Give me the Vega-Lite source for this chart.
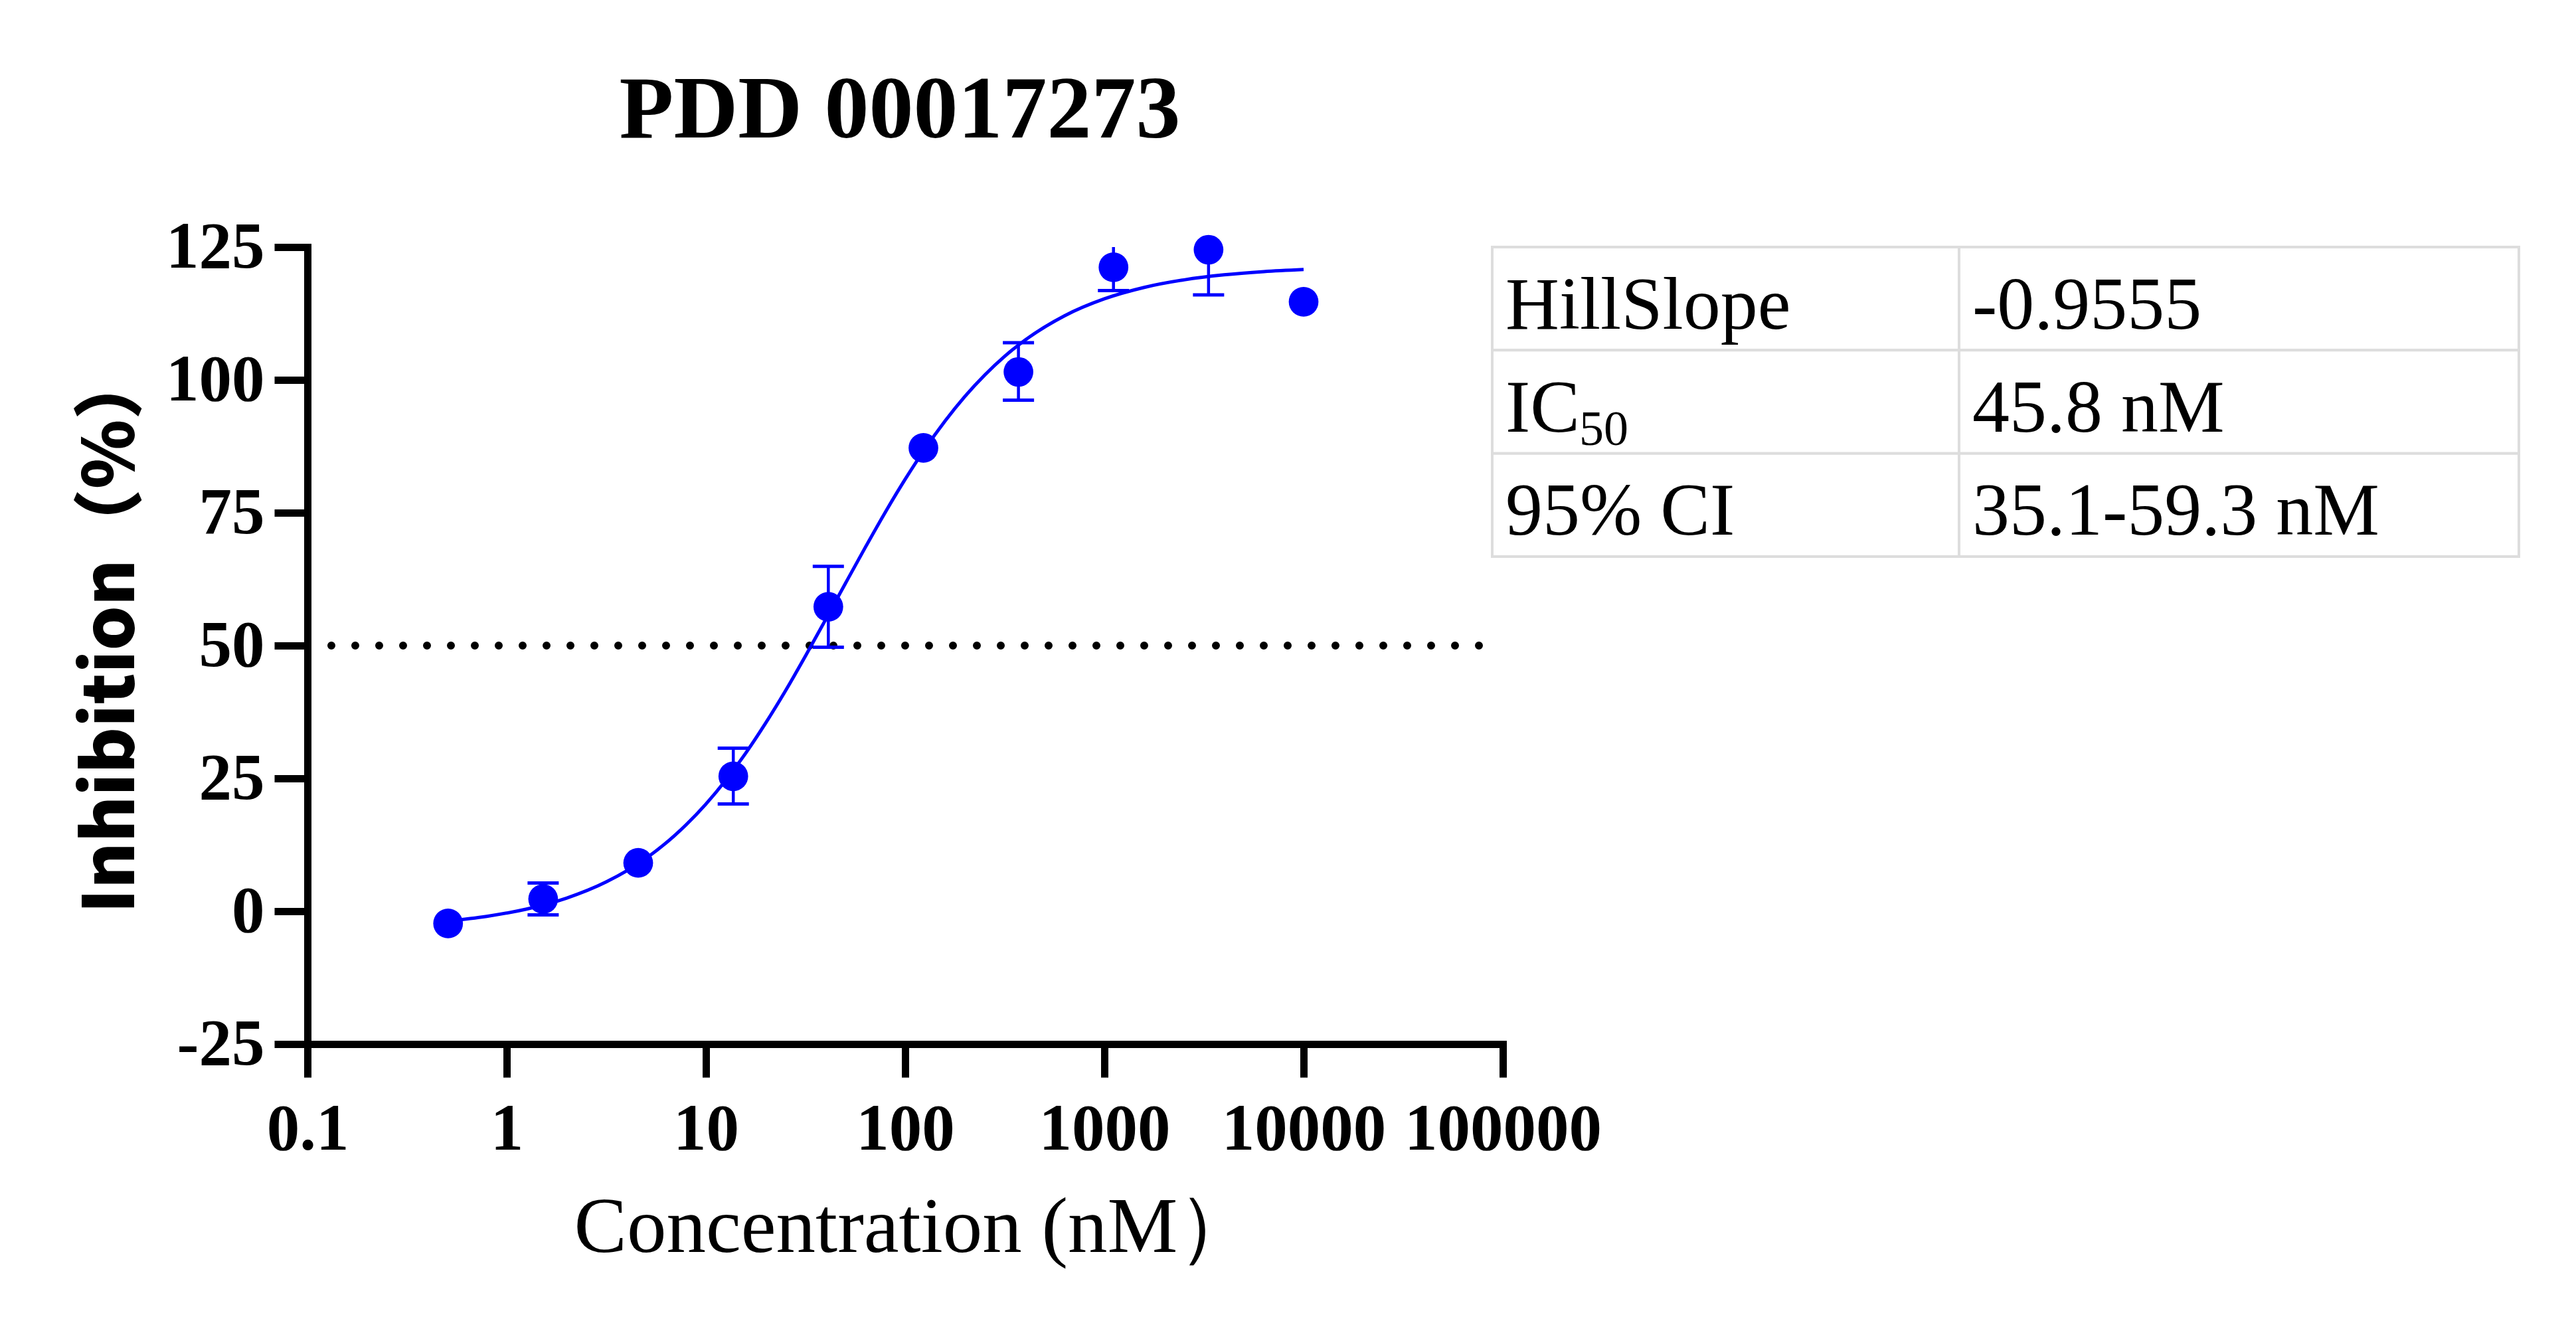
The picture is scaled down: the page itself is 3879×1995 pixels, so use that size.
{
  "$schema": "https://vega.github.io/schema/vega-lite/v6.json",
  "description": "PDD 00017273 dose-response curve with fit parameter table.",
  "padding": {"left": 116, "top": 100, "right": 5, "bottom": 5},
  "background": "white",
  "config": {
    "view": {"stroke": null},
    "axis": {
      "grid": false,
      "domainColor": "black",
      "domainWidth": 11,
      "domainCap": "square",
      "tickColor": "black",
      "tickWidth": 11,
      "tickSize": 50,
      "labelColor": "black",
      "labelFont": "Liberation Serif",
      "labelFontWeight": "bold",
      "labelFontSize": 99,
      "labelLimit": 1000,
      "titleColor": "black"
    }
  },
  "datasets": {
    "points": [
      {"conc": 0.508, "inhibition": -2.3},
      {"conc": 1.524, "inhibition": 2.3, "lo": -0.7, "hi": 5.3},
      {"conc": 4.572, "inhibition": 9.1},
      {"conc": 13.72, "inhibition": 25.4, "lo": 20.2, "hi": 30.7},
      {"conc": 41.15, "inhibition": 57.3, "lo": 49.7, "hi": 64.9},
      {"conc": 123.5, "inhibition": 87.2},
      {"conc": 370.4, "inhibition": 101.5, "lo": 96.2, "hi": 107.0},
      {"conc": 1111, "inhibition": 121.2, "lo": 116.8, "hi": 125.6},
      {"conc": 3333, "inhibition": 124.5, "lo": 116.0, "hi": 133.0},
      {"conc": 10000, "inhibition": 114.7}
    ],
    "fit": [
      {"conc": 0.5, "inhibition": -1.85},
      {"conc": 0.794, "inhibition": -0.96},
      {"conc": 1.259, "inhibition": 0.41},
      {"conc": 1.995, "inhibition": 2.46},
      {"conc": 3.162, "inhibition": 5.52},
      {"conc": 5.012, "inhibition": 9.97},
      {"conc": 7.943, "inhibition": 16.24},
      {"conc": 10, "inhibition": 20.17},
      {"conc": 12.59, "inhibition": 24.68},
      {"conc": 15.85, "inhibition": 29.77},
      {"conc": 19.95, "inhibition": 35.42},
      {"conc": 25.12, "inhibition": 41.53},
      {"conc": 31.62, "inhibition": 48.05},
      {"conc": 39.81, "inhibition": 54.83},
      {"conc": 50.12, "inhibition": 61.69},
      {"conc": 63.1, "inhibition": 68.48},
      {"conc": 79.43, "inhibition": 75.07},
      {"conc": 100, "inhibition": 81.29},
      {"conc": 125.9, "inhibition": 87.05},
      {"conc": 158.5, "inhibition": 92.26},
      {"conc": 199.5, "inhibition": 96.9},
      {"conc": 251.2, "inhibition": 100.95},
      {"conc": 316.2, "inhibition": 104.46},
      {"conc": 398.1, "inhibition": 107.44},
      {"conc": 631, "inhibition": 112.07},
      {"conc": 1000, "inhibition": 115.26},
      {"conc": 1585, "inhibition": 117.41},
      {"conc": 2512, "inhibition": 118.83},
      {"conc": 3981, "inhibition": 119.77},
      {"conc": 6310, "inhibition": 120.38},
      {"conc": 10000, "inhibition": 120.78}
    ],
    "half": [
      {"from": 0.1, "to": 80000, "inhibition": 50}
    ],
    "stats": [
      {"row": 1, "param": "HillSlope", "value": "-0.9555"},
      {"row": 2, "param": "IC", "sub": "50", "value": "45.8 nM"},
      {"row": 3, "param": "95% CI", "value": "35.1-59.3 nM"}
    ]
  },
  "bounds": "flush",
  "spacing": 0,
  "hconcat": [
    {
      "width": 1784,
      "height": 1200,
      "title": {
        "text": "PDD 00017273",
        "font": "Liberation Serif",
        "fontSize": 134,
        "fontWeight": "bold",
        "color": "black",
        "anchor": "middle",
        "frame": "group",
        "baseline": "alphabetic",
        "offset": -18
      },
      "layer": [
        {
          "data": {"name": "half"},
          "mark": {"type": "rule", "color": "black", "strokeWidth": 12, "strokeDash": [0, 36], "strokeCap": "round"},
          "encoding": {
            "x": {"field": "from", "type": "quantitative"},
            "x2": {"field": "to"},
            "y": {"field": "inhibition", "type": "quantitative"}
          }
        },
        {
          "data": {"name": "fit"},
          "mark": {"type": "line", "color": "#0000FF", "strokeWidth": 5, "interpolate": "monotone"},
          "encoding": {
            "x": {"field": "conc", "type": "quantitative"},
            "y": {"field": "inhibition", "type": "quantitative"}
          }
        },
        {
          "data": {"name": "points"},
          "mark": {"type": "rule", "color": "#0000FF", "strokeWidth": 4.5, "clip": true},
          "encoding": {
            "x": {"field": "conc", "type": "quantitative"},
            "y": {"field": "lo", "type": "quantitative"},
            "y2": {"field": "hi"}
          }
        },
        {
          "data": {"name": "points"},
          "mark": {"type": "tick", "orient": "horizontal", "color": "#0000FF", "size": 47, "thickness": 5, "opacity": 1, "clip": true},
          "encoding": {
            "x": {"field": "conc", "type": "quantitative"},
            "y": {"field": "lo", "type": "quantitative"}
          }
        },
        {
          "data": {"name": "points"},
          "mark": {"type": "tick", "orient": "horizontal", "color": "#0000FF", "size": 47, "thickness": 5, "opacity": 1, "clip": true},
          "encoding": {
            "x": {"field": "conc", "type": "quantitative"},
            "y": {"field": "hi", "type": "quantitative"}
          }
        },
        {
          "data": {"name": "points"},
          "mark": {"type": "circle", "color": "#0000FF", "size": 2000, "opacity": 1},
          "encoding": {
            "x": {
              "field": "conc",
              "type": "quantitative",
              "scale": {"type": "log", "domain": [0.1, 100000], "nice": false, "range": [0, 1800]},
              "axis": {
                "values": [0.1, 1, 10, 100, 1000, 10000, 100000],
                "labelExpr": "'' + datum.value",
                "labelPadding": 30,
                "labelFlush": false,
                "labelOverlap": false,
                "title": "Concentration (nM）",
                "titleFont": "Liberation Serif",
                "titleFontWeight": "normal",
                "titleFontSize": 119,
                "titlePadding": 40,
                "titleX": 915
              }
            },
            "y": {
              "field": "inhibition",
              "type": "quantitative",
              "scale": {"domain": [-25, 125], "nice": false, "zero": false},
              "axis": {
                "values": [-25, 0, 25, 50, 75, 100, 125],
                "labelExpr": "'' + datum.value",
                "labelPadding": 15,
                "labelFlush": false,
                "labelOverlap": false,
                "title": "Inhibition（%）",
                "titleFont": "Noto Sans CJK SC",
                "titleFontWeight": 900,
                "titleFontSize": 106,
                "titlePadding": 40,
                "titleY": 578
              }
            }
          }
        }
      ]
    },
    {
      "bounds": "flush",
      "spacing": 0,
      "hconcat": [
        {
          "width": 703,
          "height": 466,
          "data": {"name": "stats"},
          "encoding": {
            "y": {"field": "row", "type": "ordinal", "axis": null, "scale": {"paddingInner": 0, "paddingOuter": 0}}
          },
          "layer": [
            {"mark": {"type": "rect", "fill": "white", "stroke": "#dddddd", "strokeWidth": 4}},
            {
              "mark": {"type": "text", "x": 0, "dx": 20, "dy": 45, "align": "left", "baseline": "alphabetic", "font": "Liberation Serif", "fontSize": 112, "color": "black"},
              "encoding": {"text": {"field": "param"}}
            },
            {
              "transform": [{"filter": "isValid(datum.sub)"}],
              "mark": {"type": "text", "x": 0, "dx": 131, "dy": 65, "align": "left", "baseline": "alphabetic", "font": "Liberation Serif", "fontSize": 74, "color": "black"},
              "encoding": {"text": {"field": "sub"}}
            }
          ]
        },
        {
          "width": 843,
          "height": 466,
          "data": {"name": "stats"},
          "encoding": {
            "y": {"field": "row", "type": "ordinal", "axis": null, "scale": {"paddingInner": 0, "paddingOuter": 0}}
          },
          "layer": [
            {"mark": {"type": "rect", "fill": "white", "stroke": "#dddddd", "strokeWidth": 4}},
            {
              "mark": {"type": "text", "x": 0, "dx": 20, "dy": 45, "align": "left", "baseline": "alphabetic", "font": "Liberation Serif", "fontSize": 112, "color": "black"},
              "encoding": {"text": {"field": "value"}}
            }
          ]
        }
      ]
    }
  ]
}
